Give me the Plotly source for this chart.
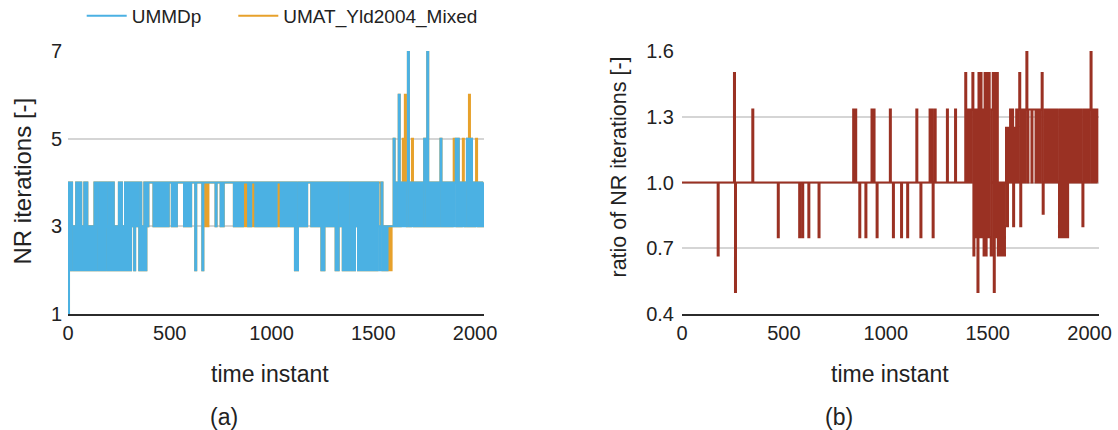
import plotly.graph_objects as go

# ---------------- data ----------------
# one sample every 5 time instants
time_step = 5
x_ticks = [0, 500, 1000, 1500, 2000]
y_ticks_a = [1, 3, 5, 7]
y_ticks_b = [0.4, 0.7, 1.0, 1.3, 1.6]
y_ticklabels_b = ["0.4", "0.7", "1.0", "1.3", "1.6"]

# UMMDp NR iterations, one digit per sample
ummdp_digits = (
    "1" "424" "3232" "424242" "32" "4242" "32323" "2424" "32" "4242424" "3"
    "2424242" "3232" "4242" "32" "4242424" "3" "424343242324243" "44444"
    "343" "4" "343434343434" "44" "34343" "4444444" "34343434" "444" "24"
    "44444" "24" "4" "444" "4444444" "34" "444" "343" "4444444444"
    "3434343434" "4444" "3434" "444" "3434343434343434343434" "444"
    "34343434343434" "242" "3434343434" "444" "343434343" "4242"
    "43434343434" "242" "3434" "2424242" "34" "242" "434"
    "24242424242424242424" "3234" "232323" "333" "3" "35" "343" "3634"
    "34343" "37" "434" "34" "343434343" "3543" "73" "43434343434" "53"
    "4343434343" "434" "5353" "43" "434" "34" "53535" "343" "434" "343434"
)

# UMAT_Yld2004_Mixed equals UMMDp except at these samples
umat_diff_index = [135, 137, 173, 175, 182, 207, 305, 306, 315, 317,
                   328, 329, 330, 331, 332, 338, 379, 388, 394, 401]
umat_diff_value = [3, 3, 3, 3, 3, 3, 4, 4, 2, 2,
                   4, 5, 4, 6, 4, 5, 5, 5, 6, 5]

# ratio of NR iterations, coded one letter per sample
ratio_levels = {"a": 1.0, "b": 4 / 3, "c": 1.5, "d": 1.6, "e": 1.25,
                "f": 0.8, "g": 0.75, "h": 2 / 3, "i": 0.5, "j": 6 / 7}
ratio_codes = (
    "aaaaaaaaaa" "aaaaaaaaaa" "aaaaaaaaaa" "aaaaa" "h"
    "aaaaaaaaaa" "aaaaa" "ci"
    "aaaaaaaaaa" "aaaaaa" "b"
    "aaaaaaaaaa" "aaaaaaaaaa" "aaaa" "g"
    "aaaaaaaaaa" "aaaaaaaaaa" "g" "aa" "g" "aaaaa" "g" "aaaaaaaaa" "g"
    "aaaaaaaaaa" "aaaaaaaaaa" "aaaaaaaaaa" "aaa" "bab" "aaa" "g" "aaaaa" "g"
    "aaaaa" "bab" "aa" "g" "aaaaaaaaaa" "aa" "b" "aa" "g" "aaaaaaa" "g"
    "aaaaa" "g" "aaaaaaaa" "b" "aaa" "g" "aaaaaaaa" "babgab"
    "aaaaaaaaaa" "a" "b" "aaaaaaa" "b" "aaaaaaaaa" "c" "ababab"
    "chbgbicgcgbhchcgcghbcicgchahahaha" "efe" "ababf" "ea" "bab" "cfbabab"
    "da" "bbbabbbab" "abab" "cj" "abababababababa" "gbgbgbgbg"
    "bababababababa" "f" "bababab" "d" "abababa"
)

# ---------------- build series ----------------
ummdp = [int(ch) for ch in ummdp_digits]
umat = list(ummdp)
for i, v in zip(umat_diff_index, umat_diff_value):
    umat[i] = v
ratio = [ratio_levels[ch] for ch in ratio_codes]
t_a = [i * time_step for i in range(len(ummdp))]
t_b = [i * time_step for i in range(len(ratio))]

BLUE = "#4BB1E3"
ORANGE = "#E7A12B"
RED = "#9A3123"
TEXT = "#222222"
GRID = "#D5D5D5"
AXIS = "#2B2B2B"
FONT = "Liberation Sans, Arial, Helvetica, sans-serif"

W, H = 1118, 430
def px(x):
    return x / W
def py(y):
    return (H - y) / H

fig = go.Figure()
fig.add_trace(go.Scatter(x=t_a, y=umat, mode="lines", name="UMAT_Yld2004_Mixed",
                         line=dict(color=ORANGE, width=2, shape="hv"), xaxis="x", yaxis="y",
                         legend="legend2"))
fig.add_trace(go.Scatter(x=t_a, y=ummdp, mode="lines", name="UMMDp",
                         line=dict(color=BLUE, width=2, shape="hv"), xaxis="x", yaxis="y",
                         legend="legend"))
fig.add_trace(go.Scatter(x=t_b, y=ratio, mode="lines", name="ratio",
                         line=dict(color=RED, width=2, shape="hv"), xaxis="x2", yaxis="y2",
                         showlegend=False))

ydom = [py(314), py(51)]
common_x = dict(range=[0, 2044], tickvals=x_ticks, showgrid=False, zeroline=False,
                showline=True, linecolor=AXIS, linewidth=2, ticks="",
                tickfont=dict(size=20, color=TEXT, family=FONT))
common_y = dict(showgrid=True, gridcolor=GRID, gridwidth=1.5, zeroline=False,
                showline=False, ticks="",
                tickfont=dict(size=20, color=TEXT, family=FONT))

fig.update_layout(
    width=W, height=H, autosize=False,
    margin=dict(l=0, r=0, t=0, b=0, pad=0, autoexpand=False),
    paper_bgcolor="white", plot_bgcolor="white",
    font=dict(family=FONT, color=TEXT, size=20),
    xaxis=dict(domain=[px(68), px(484)], anchor="y", **common_x),
    yaxis=dict(domain=ydom, anchor="x", range=[1, 7], tickvals=y_ticks_a,
               ticklabelstandoff=5, **common_y),
    xaxis2=dict(domain=[px(682), px(1098.5)], anchor="y2", **common_x),
    yaxis2=dict(domain=ydom, anchor="x2", range=[0.4, 1.6], tickvals=y_ticks_b,
                ticktext=y_ticklabels_b, ticklabelstandoff=7, **common_y),
    legend=dict(orientation="h", x=px(81.7), y=py(16), xanchor="left", yanchor="middle",
                font=dict(size=19, color=TEXT, family=FONT), itemwidth=40,
                bgcolor="rgba(0,0,0,0)", borderwidth=0),
    legend2=dict(orientation="h", x=px(233.3), y=py(16), xanchor="left", yanchor="middle",
                 font=dict(size=19, color=TEXT, family=FONT), itemwidth=40,
                 bgcolor="rgba(0,0,0,0)", borderwidth=0),
    showlegend=True,
)

ann = [
    dict(text="NR iterations [-]", x=px(22), y=py(181.5), textangle=-90, size=24),
    dict(text="time instant", x=px(270), y=py(374), textangle=0, size=23),
    dict(text="(a)", x=px(224), y=py(417), textangle=0, size=23),
    dict(text="ratio of NR iterations [-]", x=px(618), y=py(167.5), textangle=-90, size=21.5),
    dict(text="time instant", x=px(889.5), y=py(374), textangle=0, size=23),
    dict(text="(b)", x=px(838.5), y=py(417), textangle=0, size=23),
]
for a in ann:
    fig.add_annotation(text=a["text"], x=a["x"], y=a["y"], xref="paper", yref="paper",
                       xanchor="center", yanchor="middle", showarrow=False,
                       textangle=a["textangle"],
                       font=dict(size=a["size"], color=TEXT, family=FONT))

fig.write_html("out.html")
